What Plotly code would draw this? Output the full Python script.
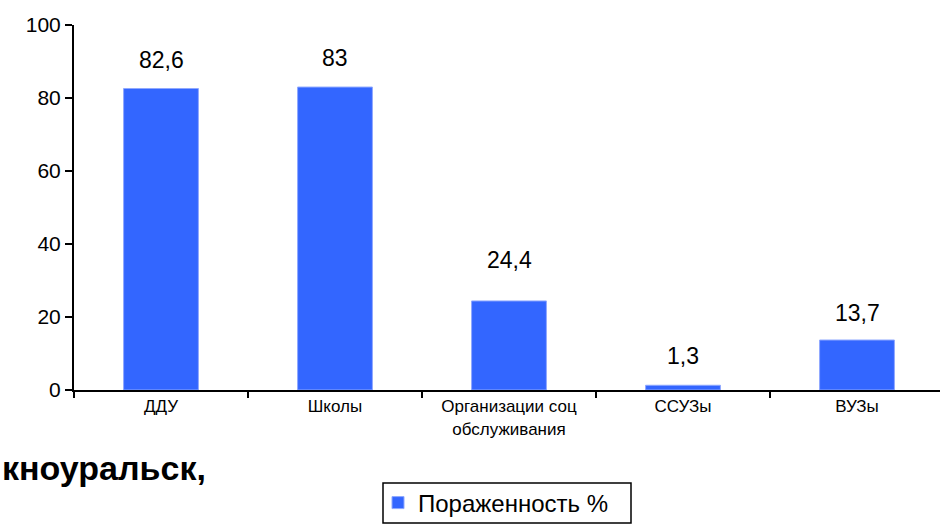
import plotly.graph_objects as go

categories = ["ДДУ", "Школы", "Организации соц<br>обслуживания", "ССУЗы", "ВУЗы"]
values = [82.6, 83, 24.4, 1.3, 13.7]
value_labels = ["82,6", "83", "24,4", "1,3", "13,7"]
series_name = "Пораженность %"
y_ticks = [0, 20, 40, 60, 80, 100]

FONT = "Liberation Sans, Arial, sans-serif"
label_shift = [29, 29, 41, 29, 27]

W, H = 944, 528
L, R, T, B = 74, 0, 25, 138
PW, PH = W - L - R, H - T - B


def px_x(px):
    return (px - L) / PW


def px_y(py):
    return (H - B - py) / PH


fig = go.Figure()
fig.add_trace(go.Bar(
    x=categories, y=values, name=series_name,
    marker=dict(color="#3366FF", line=dict(color="#8FA8FF", width=1)),
    width=0.43, showlegend=True,
))

for c, v, t, s in zip(categories, values, value_labels, label_shift):
    fig.add_annotation(x=c, y=v, text=t, showarrow=False, yshift=s,
                       font=dict(family=FONT, size=23, color="black"))

fig.add_annotation(xref="paper", yref="paper", x=px_x(208), y=px_y(468),
                   xanchor="right", yanchor="middle", text="<b>кноуральск,</b>",
                   showarrow=False, font=dict(family=FONT, size=34, color="black"))

# legend frame
fig.add_shape(type="rect", xref="paper", yref="paper",
              x0=px_x(383), x1=px_x(631), y0=px_y(523), y1=px_y(483),
              line=dict(color="black", width=1.5), fillcolor="rgba(0,0,0,0)")

fig.update_layout(
    width=W, height=H,
    margin=dict(l=L, r=R, t=T, b=B, autoexpand=False),
    plot_bgcolor="white", paper_bgcolor="white",
    font=dict(family=FONT, color="black"),
    showlegend=True,
    legend=dict(x=px_x(378), xanchor="left", y=px_y(503), yanchor="middle",
                bgcolor="rgba(0,0,0,0)", borderwidth=0,
                font=dict(family=FONT, size=24), itemwidth=30),
    xaxis=dict(range=[-0.5, 4.5], showline=True, linecolor="black", linewidth=2,
               ticks="outside", tickson="boundaries", ticklen=6, tickwidth=2,
               tickcolor="black", tickfont=dict(family=FONT, size=17), showgrid=False,
               automargin=False),
    yaxis=dict(range=[0, 100], tickvals=y_ticks, showline=True, linecolor="black",
               linewidth=2, ticks="outside", ticklen=7, tickwidth=2, tickcolor="black",
               tickfont=dict(family=FONT, size=21), showgrid=False, zeroline=False,
               automargin=False),
)

fig.write_html("out.html", config={"displayModeBar": False},
               post_script="document.body.style.margin='0';document.body.style.overflow='hidden';")
